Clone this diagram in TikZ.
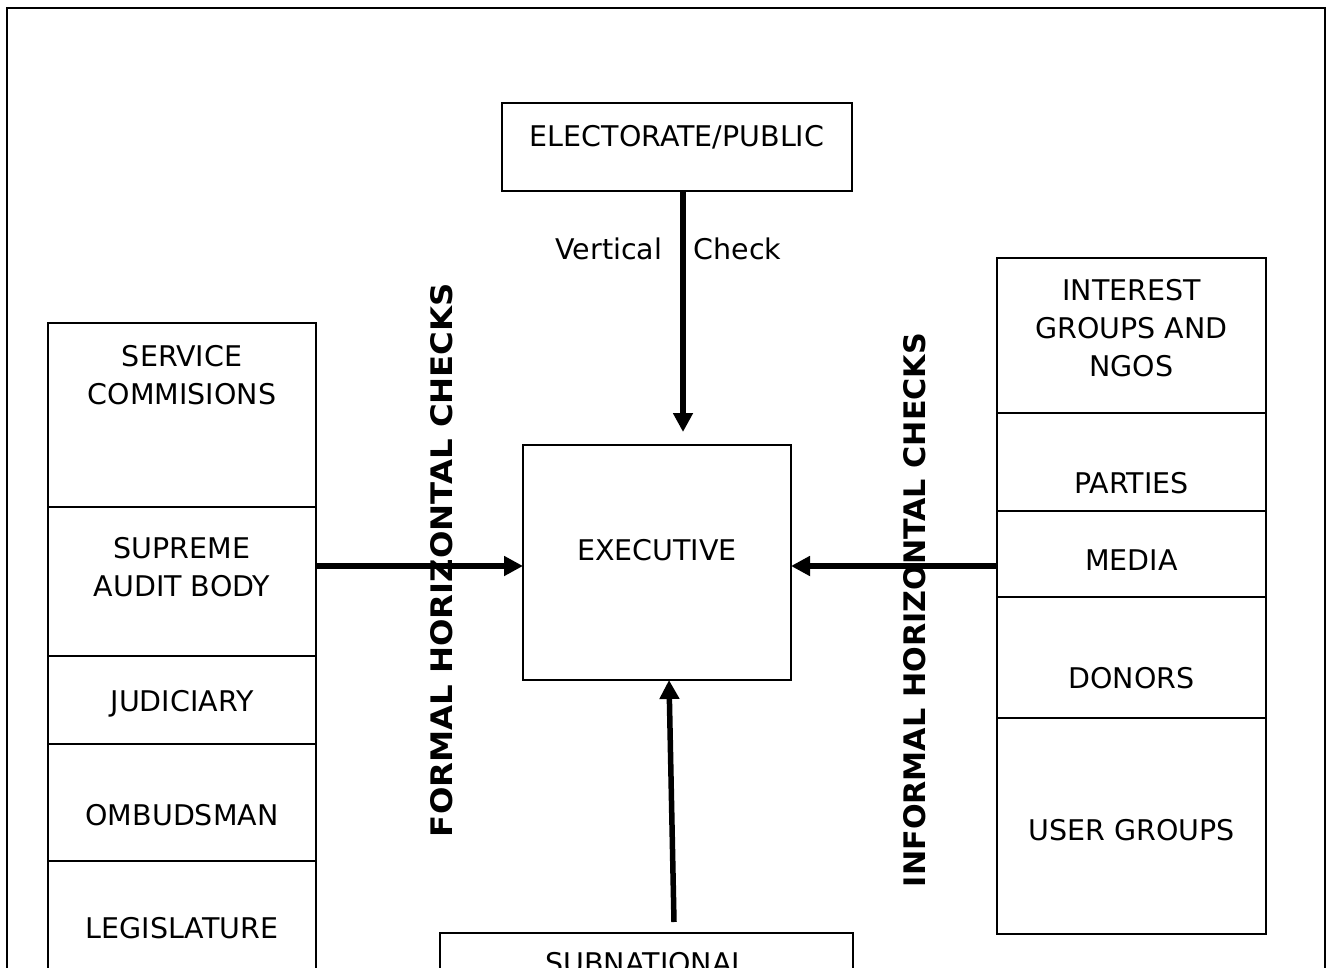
\documentclass[tikz,border=0pt]{standalone}
\usepackage{graphicx}
\usepackage{fontspec}
\setmainfont{DejaVu Sans}
\usetikzlibrary{arrows.meta,calc}
\begin{document}
\begin{tikzpicture}[x=1pt,y=-1pt,
  box/.style={draw,line width=1.9pt,inner sep=0pt,outer sep=0pt},
  colbox/.style={box,minimum width=268pt},
  txt/.style={inner sep=0pt,anchor=north,align=center,font=\fontsize{28.5}{38}\selectfont},
  chk/.style={line width=5.5pt,-{Triangle[length=19pt,width=19pt]}},
  side/.style={inner sep=0pt,rotate=90,font=\bfseries}]
\clip (0,0) rectangle (1331,968);
% outer frame
\draw[line width=2.5pt] (7,1000) |- (1325,8) -- (1325,1000);

% top and centre boxes
\node[box,minimum width=350pt,minimum height=88pt] (elect) at (677,147) {};
\node[txt] (electtxt) at (677,125) {ELECTORATE/PUBLIC};
\node[box,minimum width=268pt,minimum height=235pt] (exec) at (657,562.5) {};
\node[txt] (exectxt) at (657,539) {EXECUTIVE};
\node[box,minimum width=413pt,minimum height=67pt] (sub) at (646.5,966.5) {};
\node[txt] (subtxt) at (646.5,952) {SUBNATIONAL};

% formal institutions (left column)
\node[colbox,minimum height=184pt] (svc) at (182,415) {};
\node[colbox,minimum height=149pt] (sab) at (182,581.5) {};
\node[colbox,minimum height=88pt]  (jud) at (182,700) {};
\node[colbox,minimum height=117pt] (omb) at (182,802.5) {};
\node[colbox,minimum height=139pt] (leg) at (182,930.5) {};
\node[txt] (svctxt) at (182,345) {SERVICE\\COMMISIONS};
\node[txt] (sabtxt) at (182,537) {SUPREME\\AUDIT BODY};
\node[txt] (judtxt) at (182,690) {JUDICIARY};
\node[txt] (ombtxt) at (182,804) {OMBUDSMAN};
\node[txt] (legtxt) at (182,917) {LEGISLATURE};

% informal actors (right column)
\node[colbox,minimum width=269pt,minimum height=155pt] (igo) at (1131.5,335.5) {};
\node[colbox,minimum width=269pt,minimum height=98pt]  (par) at (1131.5,462) {};
\node[colbox,minimum width=269pt,minimum height=86pt]  (med) at (1131.5,554) {};
\node[colbox,minimum width=269pt,minimum height=121pt] (don) at (1131.5,657.5) {};
\node[colbox,minimum width=269pt,minimum height=216pt] (usr) at (1131.5,826) {};
\node[txt] (igotxt) at (1131.5,279) {INTEREST\\GROUPS AND\\NGOS};
\node[txt] (partxt) at (1131.5,472) {PARTIES};
\node[txt] (medtxt) at (1131.5,550) {MEDIA};
\node[txt] (dontxt) at (1131.5,667) {DONORS};
\node[txt] (usrtxt) at (1131.5,819) {USER GROUPS};

% checks
\coordinate (ttail) at ($(elect.south)+(6,0)$);
\draw[chk,shorten >=13pt] (ttail) -- (ttail |- exec.north);
\node[txt,anchor=base] (vlbl) at (609,260) {Vertical};
\node[txt,anchor=base] (clbl) at (737.5,260) {Check};

\coordinate (ltail) at ($(sab.east)+(0,-15.5)$);
\draw[chk] (ltail) -- (ltail -| exec.west);
\coordinate (rtail) at ($(med.west)+(0,12)$);
\draw[chk] (rtail) -- (rtail -| exec.east);
\coordinate (btail) at ($(sub.north)+(27.5,-11)$);
\draw[chk] (btail) -- ($(exec.south)+(12,0)$);

\node[side] (formal) at (442,560) {\resizebox{554pt}{22pt}{FORMAL HORIZONTAL CHECKS}};
\node[side] (informal) at (914.5,610) {\resizebox{554pt}{22pt}{INFORMAL HORIZONTAL CHECKS}};
\end{tikzpicture}
\end{document}
